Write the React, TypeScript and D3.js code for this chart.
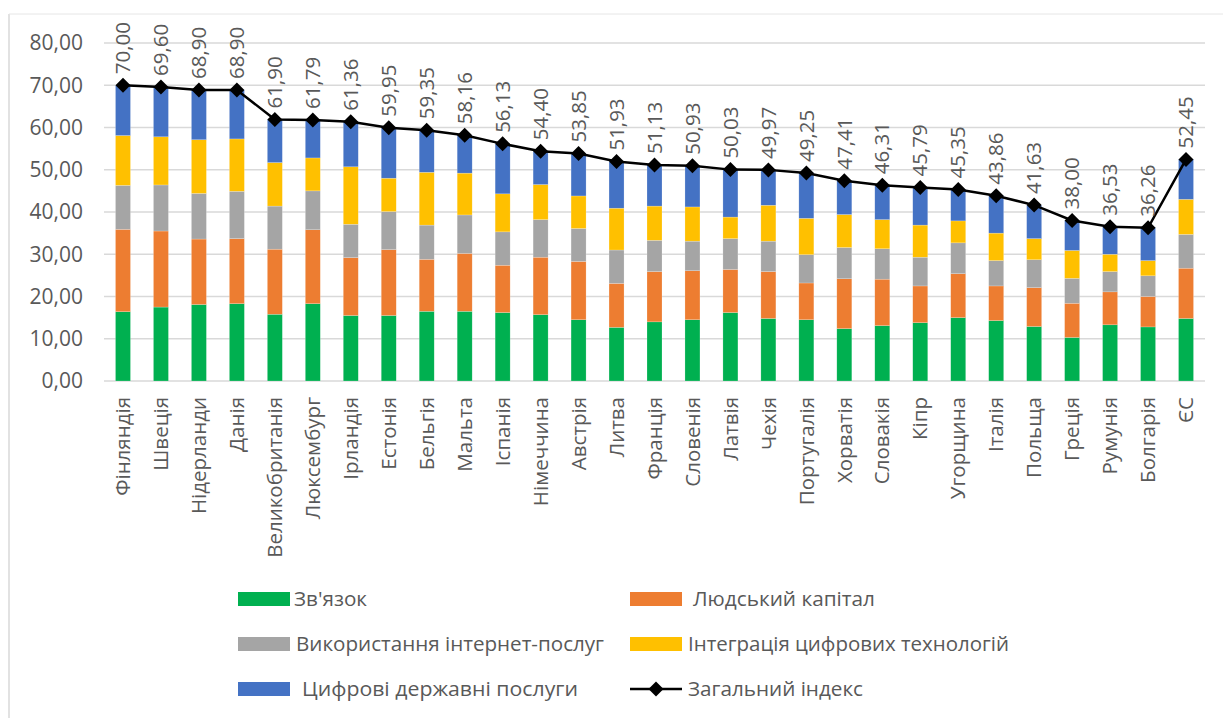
import React from "react";
import * as d3 from "d3";

const countries = ["Фінляндія","Швеція","Нідерланди","Данія","Великобританія","Люксембург","Ірландія","Естонія","Бельгія","Мальта","Іспанія","Німеччина","Австрія","Литва","Франція","Словенія","Латвія","Чехія","Португалія","Хорватія","Словакія","Кіпр","Угорщина","Італія","Польща","Греція","Румунія","Болгарія","ЄС"];

const connectivity = [16.4,17.5,18.1,18.3,15.8,18.3,15.5,15.5,16.5,16.5,16.2,15.7,14.5,12.7,14.0,14.5,16.2,14.8,14.5,12.4,13.1,13.8,15.0,14.3,12.9,10.3,13.3,12.8,14.8];
const humanCapital = [19.5,18.0,15.5,15.4,15.4,17.5,13.7,15.6,12.3,13.7,11.2,13.6,13.8,10.4,11.9,11.6,10.2,11.1,8.7,11.8,11.0,8.7,10.4,8.2,9.2,8.1,7.8,7.2,11.9];
const internetUse = [10.4,10.9,10.8,11.2,10.2,9.2,7.9,9.0,8.1,9.1,7.9,8.9,7.8,7.9,7.4,7.0,7.3,7.2,6.7,7.4,7.2,6.8,7.3,6.0,6.6,5.9,4.8,4.9,8.0];
const integration = [11.8,11.4,12.7,12.4,10.3,7.8,13.6,7.9,12.5,9.9,9.0,8.3,7.7,9.9,8.1,8.1,5.1,8.5,8.6,7.8,6.9,7.6,5.2,6.5,5.0,6.6,4.1,3.6,8.3];
const publicServices = [11.9,11.8,11.8,11.6,10.2,9.0,10.7,12.0,10.0,9.0,11.8,7.9,10.1,11.0,9.7,9.7,11.2,8.4,10.8,8.0,8.1,8.9,7.5,8.9,7.9,7.1,6.5,7.8,9.5];
const overall = [70.00,69.60,68.90,68.90,61.90,61.79,61.36,59.95,59.35,58.16,56.13,54.40,53.85,51.93,51.13,50.93,50.03,49.97,49.25,47.41,46.31,45.79,45.35,43.86,41.63,38.00,36.53,36.26,52.45];

const seriesNames = ["Зв'язок","Людський капітал","Використання інтернет-послуг","Інтеграція цифрових технологій","Цифрові державні послуги"];
const lineName = "Загальний індекс";
const yTicks = [0,10,20,30,40,50,60,70,80];

const colors = ["#00B050","#ED7D31","#A5A5A5","#FFC000","#4472C4"];
const textColor = "#595959";
const font = "'Open Sans', 'DejaVu Sans', sans-serif";

export default function App() {
  const W = 1223, H = 718;
  const x0 = 104, x1 = 1205, yBottom = 381, yTop = 43;
  const x = d3.scaleBand<string>().domain(countries).range([x0, x1]).paddingInner(0.605).paddingOuter(0.3025);
  const y = d3.scaleLinear().domain([0, 80]).range([yBottom, yTop]);

  const rows = countries.map((c, i) => ({
    c,
    v: [connectivity[i], humanCapital[i], internetUse[i], integration[i], publicServices[i]],
  }));
  const stack = d3.stack<any>().keys([0,1,2,3,4] as any).value((d: any, k: any) => d.v[k]);
  const stacked = stack(rows as any);

  const cx = (c: string) => (x(c) as number) + x.bandwidth() / 2;
  const line = d3.line<number>().x((_, i) => cx(countries[i])).y(d => y(d));
  const fmt = (v: number) => d3.format(".2f")(v).replace(".", ",");

  const legendItems = [
    { kind: "rect", color: colors[0], label: seriesNames[0], sx: 238, tx: 294, ty: 599, tl: 73 },
    { kind: "rect", color: colors[1], label: seriesNames[1], sx: 630, tx: 693, ty: 599, tl: 182 },
    { kind: "rect", color: colors[2], label: seriesNames[2], sx: 238, tx: 296, ty: 644, tl: 308 },
    { kind: "rect", color: colors[3], label: seriesNames[3], sx: 630, tx: 688, ty: 644, tl: 321 },
    { kind: "rect", color: colors[4], label: seriesNames[4], sx: 238, tx: 302, ty: 689, tl: 276 },
    { kind: "line", color: "#000", label: lineName, sx: 630, tx: 688, ty: 689, tl: 175 },
  ];

  return (
    <svg width={W} height={H} style={{ position: "absolute", left: 0, top: 0, background: "#fff" }} fontFamily={font}>
      <line x1={9} x2={9} y1={14} y2={H} stroke="#D9D9D9" strokeWidth={1.5} />
      <line x1={9} x2={W} y1={14} y2={14} stroke="#E6E6E6" strokeWidth={1} />
      {yTicks.map(t => (
        <g key={t}>
          <line x1={x0} x2={x1} y1={y(t)} y2={y(t)} stroke="#D9D9D9" strokeWidth={1.5} />
          <text x={83} y={y(t)} dy="0.35em" textAnchor="end" fontSize={21} fill={textColor}>{fmt(t)}</text>
        </g>
      ))}
      {stacked.map((s: any, si: number) => (
        <g key={si} fill={colors[si]}>
          {s.map((d: any, i: number) => (
            <rect key={i} x={x(countries[i])} width={x.bandwidth()} y={y(d[1])} height={y(d[0]) - y(d[1])} stroke="#fff" strokeOpacity={0.4} strokeWidth={0.5} />
          ))}
        </g>
      ))}
      <path d={line(overall) || ""} fill="none" stroke="#000" strokeWidth={2.5} />
      {overall.map((v, i) => {
        const px = cx(countries[i]), py = y(v);
        return (
          <g key={i}>
            <path d={`M${px},${py - 7.5}L${px + 7.5},${py}L${px},${py + 7.5}L${px - 7.5},${py}Z`} fill="#000" />
            <text transform={`translate(${px},${py - 11}) rotate(-90)`} dy="0.35em" textAnchor="start" fontSize={20.5} fill={textColor}>{fmt(v)}</text>
          </g>
        );
      })}
      {countries.map(c => (
        <text key={c} transform={`translate(${cx(c)},397) rotate(-90)`} dy="0.35em" textAnchor="end" fontSize={20.5} fill={textColor}>{c}</text>
      ))}
      {legendItems.map((it, i) => (
        <g key={i}>
          {it.kind === "rect" ? (
            <rect x={it.sx} y={it.ty - 7} width={52} height={14} fill={it.color} />
          ) : (
            <g>
              <line x1={it.sx} x2={it.sx + 52} y1={it.ty} y2={it.ty} stroke="#000" strokeWidth={2.5} />
              <path d={`M${it.sx + 26},${it.ty - 7.5}L${it.sx + 33.5},${it.ty}L${it.sx + 26},${it.ty + 7.5}L${it.sx + 18.5},${it.ty}Z`} fill="#000" />
            </g>
          )}
          <text x={it.tx} y={it.ty} dy="0.35em" fontSize={20} fill={textColor} textLength={it.tl} lengthAdjust="spacingAndGlyphs">{it.label}</text>
        </g>
      ))}
    </svg>
  );
}
